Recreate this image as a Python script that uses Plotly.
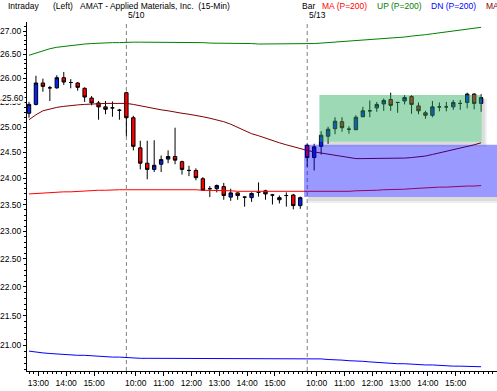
import numpy as np
import plotly.graph_objects as go

# ---------------- data ----------------
bar_index = list(range(66))

opens = [25.28, 25.46, 25.90, 25.80, 25.80, 26.01, 25.91, 25.90, 25.79, 25.59, 25.49, 25.41, 25.39, 25.34,
         25.70, 25.19, 24.59, 24.29, 24.17, 24.27, 24.37, 24.42, 24.32, 24.15, 24.15, 23.99, 23.80, 23.80,
         23.84, 23.64, 23.72, 23.64, 23.63, 23.73, 23.76, 23.68, 23.59, 23.67, 23.68, 23.48,
         24.64, 24.40, 24.62, 24.82, 24.97, 25.11, 24.96, 24.95, 25.21, 25.33, 25.39, 25.47, 25.56, 25.50,
         25.53, 25.62, 25.43, 25.29, 25.24, 25.41, 25.41, 25.41, 25.48, 25.50, 25.67, 25.48]
highs = [25.51, 26.05, 25.99, 25.84, 26.06, 26.13, 25.98, 25.92, 25.81, 25.63, 25.53, 25.53, 25.52, 25.37,
         25.72, 25.23, 24.73, 24.73, 24.74, 24.44, 24.54, 24.99, 24.34, 24.24, 24.19, 24.02, 23.85, 23.88,
         23.91, 23.80, 23.73, 23.65, 23.73, 23.92, 23.78, 23.70, 23.67, 23.73, 23.70, 23.65,
         24.67, 24.67, 24.92, 25.01, 25.20, 25.20, 25.02, 25.24, 25.41, 25.54, 25.51, 25.58, 25.70, 25.51,
         25.65, 25.65, 25.50, 25.33, 25.53, 25.50, 25.51, 25.55, 25.55, 25.70, 25.69, 25.67]
lows = [25.19, 25.44, 25.72, 25.53, 25.78, 25.86, 25.79, 25.74, 25.51, 25.44, 25.15, 25.26, 25.21, 25.15,
        24.82, 24.54, 24.17, 23.98, 24.12, 24.12, 24.29, 24.27, 24.07, 24.04, 23.96, 23.76, 23.64, 23.73,
        23.59, 23.57, 23.59, 23.46, 23.55, 23.65, 23.59, 23.50, 23.52, 23.46, 23.41, 23.42,
        24.22, 24.15, 24.46, 24.67, 24.86, 24.91, 24.87, 24.94, 25.20, 25.20, 25.31, 25.33, 25.33, 25.29,
        25.46, 25.27, 25.26, 25.17, 25.20, 25.32, 25.32, 25.35, 25.35, 25.38, 25.36, 25.31]
closes = [25.46, 25.90, 25.83, 25.80, 26.01, 25.92, 25.91, 25.81, 25.61, 25.49, 25.41, 25.36, 25.39, 25.34,
          25.19, 24.62, 24.29, 24.17, 24.25, 24.36, 24.42, 24.35, 24.17, 24.15, 24.01, 23.77, 23.80, 23.86,
          23.67, 23.72, 23.67, 23.64, 23.71, 23.73, 23.70, 23.68, 23.63, 23.67, 23.48, 23.63,
          24.40, 24.61, 24.84, 24.96, 25.12, 24.99, 24.96, 25.20, 25.33, 25.33, 25.46, 25.54, 25.44, 25.50,
          25.60, 25.46, 25.33, 25.24, 25.41, 25.41, 25.41, 25.50, 25.48, 25.67, 25.48, 25.60]

ma_red = [23.70, 23.71, 23.72, 23.72, 23.73, 23.74, 23.74, 23.75, 23.76, 23.76, 23.77, 23.77, 23.78, 23.78,
          23.78, 23.78, 23.79, 23.79, 23.79, 23.79, 23.78, 23.78, 23.78, 23.78, 23.78, 23.77, 23.77, 23.77,
          23.76, 23.76, 23.75, 23.75, 23.75, 23.74, 23.74, 23.74, 23.74, 23.74, 23.74, 23.74,
          23.74, 23.74, 23.74, 23.75, 23.75, 23.75, 23.75, 23.76, 23.76, 23.77, 23.77, 23.78, 23.78, 23.79,
          23.79, 23.80, 23.81, 23.81, 23.82, 23.83, 23.83, 23.84, 23.84, 23.85, 23.85, 23.86]
up_band = [26.48, 26.53, 26.58, 26.62, 26.65, 26.67, 26.69, 26.71, 26.72, 26.73, 26.74, 26.74, 26.75, 26.75,
           26.76, 26.76, 26.76, 26.76, 26.76, 26.76, 26.76, 26.76, 26.75, 26.75, 26.75, 26.75, 26.74, 26.74,
           26.74, 26.73, 26.73, 26.73, 26.73, 26.72, 26.72, 26.72, 26.72, 26.72, 26.72, 26.72,
           26.73, 26.73, 26.74, 26.75, 26.76, 26.77, 26.78, 26.79, 26.80, 26.81, 26.82, 26.84, 26.85, 26.86,
           26.87, 26.89, 26.90, 26.92, 26.94, 26.96, 26.98, 27.00, 27.02, 27.04, 27.06, 27.08]
dn_band = [20.90, 20.88, 20.87, 20.86, 20.85, 20.84, 20.84, 20.83, 20.83, 20.82, 20.81, 20.81, 20.80, 20.80,
           20.79, 20.79, 20.78, 20.78, 20.78, 20.78, 20.78, 20.78, 20.78, 20.78, 20.78, 20.78, 20.78, 20.78,
           20.78, 20.78, 20.78, 20.78, 20.78, 20.78, 20.78, 20.78, 20.78, 20.78, 20.78, 20.78,
           20.78, 20.77, 20.77, 20.76, 20.76, 20.75, 20.74, 20.74, 20.73, 20.72, 20.71, 20.71, 20.70, 20.69,
           20.69, 20.68, 20.68, 20.67, 20.67, 20.66, 20.66, 20.65, 20.65, 20.65, 20.64, 20.64]
ma_dark = [25.15, 25.25, 25.33, 25.37, 25.40, 25.42, 25.44, 25.45, 25.46, 25.47, 25.48, 25.48, 25.48, 25.48,
           25.48, 25.46, 25.43, 25.40, 25.37, 25.35, 25.33, 25.30, 25.28, 25.26, 25.24, 25.21, 25.18, 25.15,
           25.11, 25.06, 25.00, 24.93, 24.87, 24.83, 24.78, 24.73, 24.69, 24.65, 24.61, 24.58,
           24.54, 24.51, 24.49, 24.47, 24.44, 24.42, 24.40, 24.38, 24.38, 24.38, 24.38, 24.38, 24.38, 24.38,
           24.39, 24.40, 24.41, 24.43, 24.46, 24.49, 24.52, 24.55, 24.58, 24.62, 24.65, 24.69]

hour_labels = ["13:00", "14:00", "15:00",
               "10:00", "11:00", "12:00", "13:00", "14:00", "15:00",
               "10:00", "11:00", "12:00", "13:00", "14:00", "15:00"]
hour_bar_index = [2, 6, 10, 16, 20, 24, 28, 32, 36, 42, 46, 50, 54, 58, 62]
day_labels = ["5/10", "5/13"]
day_start_index = [14, 40]
price_ticks = [21.0, 21.5, 22.0, 22.5, 23.0, 23.5, 24.0, 24.5, 25.0, 25.5, 26.0, 26.5, 27.0]
up_zone = [24.71, 25.65]
dn_zone = [23.64, 24.65]
last_price = 25.60

# ---------------- layout helpers ----------------
W, H = 497, 391
ML, MR, MT, MB = 24, 0, 22, 20
PW, PH = W - ML - MR, H - MT - MB
FONT = "Liberation Sans, Arial, sans-serif"
TICK_SHIFT = -0.65


def px_x(px):
    return (px - ML) / PW


def px_y(py):
    return (H - MB - py) / PH


x_range = [-0.286, -0.286 + PW / 7.0]
y_range = [np.log10(20.57), np.log10(27.195)]

fig = go.Figure()

fig.add_trace(go.Candlestick(
    x=bar_index, open=opens, high=highs, low=lows, close=closes,
    increasing=dict(fillcolor="#0020ff", line=dict(color="black", width=1)),
    decreasing=dict(fillcolor="#ff0000", line=dict(color="black", width=1)),
    whiskerwidth=0, showlegend=False, hoverinfo="skip"))

for vals, col in [(ma_red, "#ff0000"), (up_band, "#008000"), (dn_band, "#0000ff"), (ma_dark, "#800000")]:
    fig.add_trace(go.Scatter(x=bar_index, y=vals, mode="lines",
                             line=dict(color=col, width=1), showlegend=False, hoverinfo="skip"))

shapes = []
# day separators
for d in day_start_index:
    shapes.append(dict(type="line", xref="x", yref="paper", x0=d, x1=d, y0=0, y1=1,
                       line=dict(color="#808080", width=1, dash="4px,3px"), layer="below"))


def ysh(v, pxs):
    return v * 10 ** (-pxs / 2877)


gx0, gx1 = 41.75, 65.1
bx0, bx1 = 39.55, 70
shadow = "rgba(0,0,0,0.07)"
# soft shadows (two layers each for a gradient look)
for w in (3, 5):
    shapes.append(dict(type="rect", xref="x", yref="y", x0=gx1, x1=gx1 + w / 7.0,
                       y0=ysh(up_zone[0], w), y1=ysh(up_zone[1], 4),
                       fillcolor=shadow, line=dict(width=0), layer="above"))
    shapes.append(dict(type="rect", xref="x", yref="y", x0=gx0 + 0.6, x1=gx1,
                       y0=ysh(up_zone[0], w), y1=up_zone[0],
                       fillcolor=shadow, line=dict(width=0), layer="above"))
    shapes.append(dict(type="rect", xref="x", yref="y", x0=bx0 + 0.6, x1=bx1,
                       y0=ysh(dn_zone[0], w + 1), y1=dn_zone[0],
                       fillcolor=shadow, line=dict(width=0), layer="above"))
# zones
shapes.append(dict(type="rect", xref="x", yref="y", x0=gx0, x1=gx1, y0=up_zone[0], y1=up_zone[1],
                   fillcolor="rgba(40,170,90,0.45)", line=dict(width=0), layer="above"))
shapes.append(dict(type="rect", xref="x", yref="y", x0=bx0, x1=bx1, y0=dn_zone[0], y1=dn_zone[1],
                   fillcolor="rgba(0,0,255,0.4)", line=dict(width=0), layer="above"))

ann = []


def txt(t, px, py, color="black", size=8.5):
    ann.append(dict(text=t, xref="paper", yref="paper", x=px_x(px), y=px_y(py),
                    xanchor="left", yanchor="middle", showarrow=False,
                    font=dict(family=FONT, size=size, color=color), borderpad=0))


txt("Intraday", 4, 6)
txt("(Left)", 49, 6)
txt("AMAT - Applied Materials, Inc.  (15-Min)", 76, 6)
txt("Bar", 300, 6)
txt("MA (P=200)", 320, 6, "#ff0000")
txt("UP (P=200)", 375, 6, "#008000")
txt("DN (P=200)", 430, 6, "#0000ff")
txt("MA", 485, 6, "#800000")
for lab, d in zip(day_labels, day_start_index):
    ann.append(dict(text=lab, xref="x", yref="paper", x=d + 0.1, y=px_y(15),
                    xanchor="left", yanchor="middle", showarrow=False,
                    font=dict(family=FONT, size=8.5, color="black"), borderpad=0))
ann.append(dict(text=f"{last_price:.2f}", xref="paper", yref="y", x=px_x(21.5), y=np.log10(last_price),
                xanchor="right", yanchor="middle", showarrow=False, bgcolor="white",
                font=dict(family=FONT, size=8.5, color="black"), borderpad=0))

y_minor = [round(20.6 + 0.1 * k, 2) for k in range(66)]
y_minor = [v for v in y_minor if abs(v * 2 - round(v * 2)) > 1e-6]

fig.update_layout(
    width=W, height=H, margin=dict(l=ML, r=MR, t=MT, b=MB, pad=0),
    paper_bgcolor="white", plot_bgcolor="white",
    font=dict(family=FONT, size=8.5, color="black"),
    shapes=shapes, annotations=ann, showlegend=False,
    xaxis=dict(range=x_range, rangeslider=dict(visible=False), showgrid=False, zeroline=False,
               showline=True, linecolor="black", linewidth=1,
               tickmode="array", tickvals=[i + TICK_SHIFT for i in hour_bar_index], ticktext=hour_labels,
               ticks="outside", ticklen=4, tickcolor="black", tickfont=dict(size=8.5),
               minor=dict(ticks="outside", ticklen=2, tickcolor="black", dtick=2 / 3,
                          tick0=hour_bar_index[0] + TICK_SHIFT)),
    yaxis=dict(type="log", range=y_range, showgrid=False, zeroline=False,
               showline=True, linecolor="black", linewidth=1,
               tickmode="array", tickvals=price_ticks, ticktext=[f"{v:.2f}" for v in price_ticks],
               ticks="outside", ticklen=3, tickcolor="black", tickfont=dict(size=8.5),
               minor=dict(ticks="outside", ticklen=2, tickcolor="black", tickmode="array",
                          tickvals=y_minor)),
)

fig.write_html("out.html", config={"displayModeBar": False},
               post_script="document.body.style.margin='0';")
